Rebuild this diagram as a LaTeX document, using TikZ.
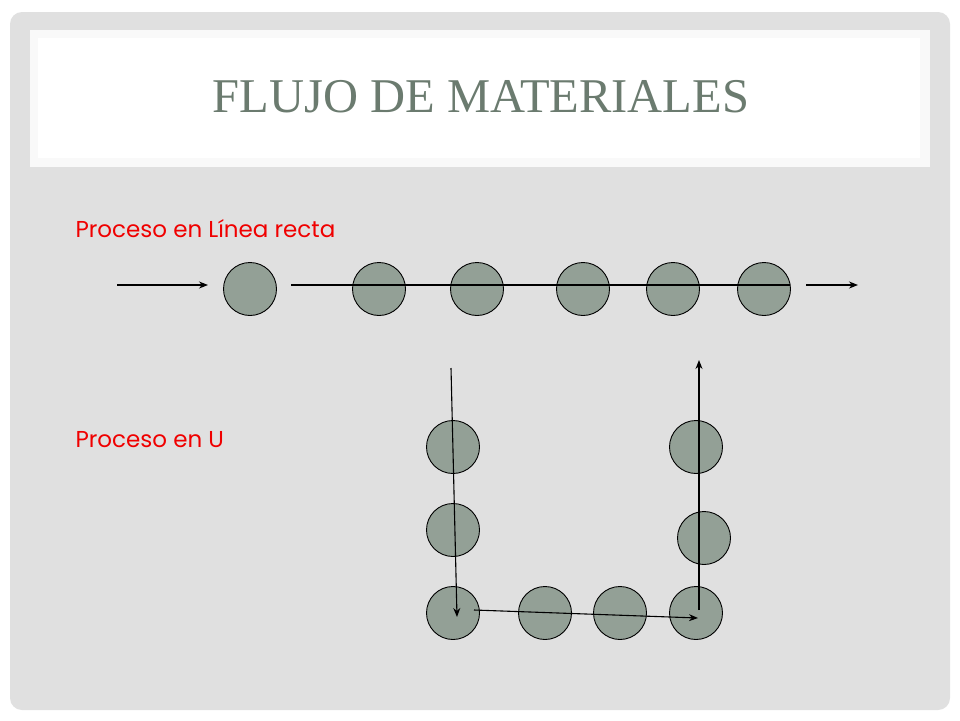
\documentclass[tikz,border=0pt]{standalone}
\usepackage{fontspec}
\setmainfont{Liberation Serif}
\newfontfamily\labelfont{Poppins}
\usetikzlibrary{arrows.meta}
\definecolor{panel}{RGB}{224,224,224}
\definecolor{titlegray}{RGB}{107,123,111}
\definecolor{station}{RGB}{147,160,150}
\definecolor{labelred}{RGB}{240,0,0}

\begin{document}
\begin{tikzpicture}[x=1pt, y=-1pt, line width=1.1pt, main/.style = {circle, draw=black, fill=station, minimum size=53pt, inner sep=0pt, line width=0.9pt}, tag/.style = {anchor=base west, inner sep=0pt, text=labelred, font=\labelfont\fontsize{23}{23}\selectfont}]
            \useasboundingbox (0,0) rectangle (960,720);

            % Background
            \fill[white] (0,0) rectangle (960,720);
            \fill[panel, rounded corners=12pt] (10,12) rectangle (950,710);
            \fill[white!82!panel] (30,30) rectangle (930,167);
            \fill[white] (38,38) rectangle (920,158);
            \node[text=titlegray, font=\fontsize{48.5}{48.5}\selectfont] (title) at (481,97) {FLUJO DE MATERIALES};

            % Labels
            \node[tag] (linea) at (75,237) {Proceso en Línea recta};
            \node[tag] (enu) at (75,447) {Proceso en U};

            % Nodes
            \node[main] (l1) at (250,289) {};
            \node[main] (l2) at (379,289) {};
            \node[main] (l3) at (477,289) {};
            \node[main] (l4) at (583,289) {};
            \node[main] (l5) at (673,289) {};
            \node[main] (l6) at (764,289) {};

            \node[main] (u1) at (453,447) {};
            \node[main] (u2) at (453,530) {};
            \node[main] (u3) at (453,613) {};
            \node[main] (u4) at (545,613) {};
            \node[main] (u5) at (620,613) {};
            \node[main] (u6) at (696,613) {};
            \node[main] (u7) at (704,538) {};
            \node[main] (u8) at (696,447) {};

            % Ends
            \coordinate (in1) at (117,285);
            \coordinate (in2) at (208,285);
            \coordinate (s1) at (291,285);
            \coordinate (s2) at (790,285);
            \coordinate (out1) at (806,285);
            \coordinate (out2) at (858,285);
            \coordinate (d1) at (451,368);
            \coordinate (d2) at (457,617);
            \coordinate (b1) at (474,610);
            \coordinate (b2) at (698,618);
            \coordinate (v1) at (699,610);
            \coordinate (v2) at (699,360);

            % Lines
            \draw[->, >={Stealth[length=9pt, width=7pt]}] (in1) -- (in2);
            \draw (s1) -- (s2);
            \draw[->, >={Stealth[length=9pt, width=7pt]}] (out1) -- (out2);
            \draw[->, >={Stealth[length=9pt, width=7pt]}] (d1) -- (d2);
            \draw[->, >={Stealth[length=9pt, width=7pt]}] (b1) -- (b2);
            \draw[->, >={Stealth[length=9pt, width=7pt]}] (v1) -- (v2);
        \end{tikzpicture}
\end{document}
